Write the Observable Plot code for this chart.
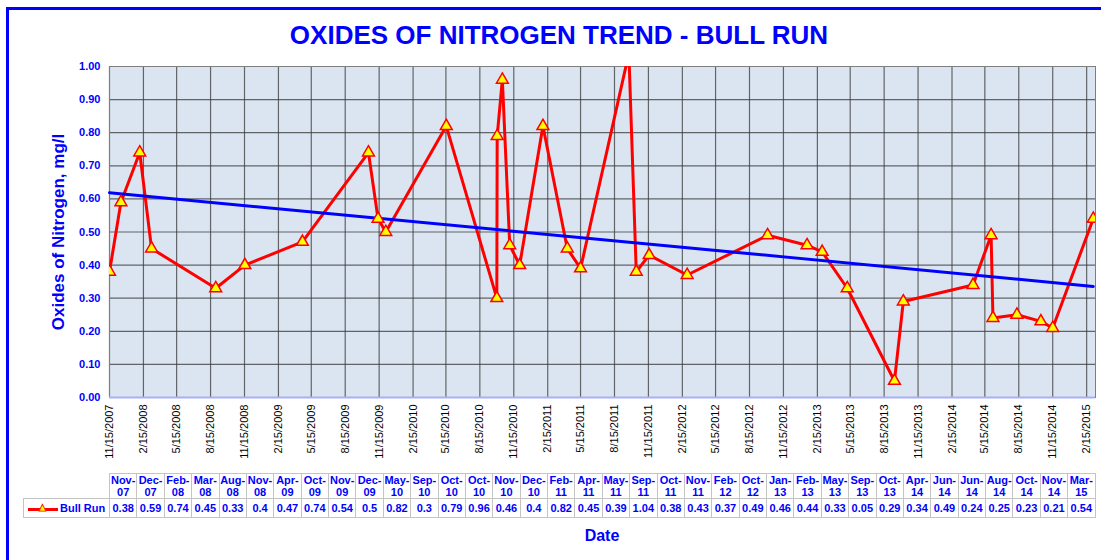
<!DOCTYPE html>
<html>
<head>
<meta charset="utf-8">
<script src="https://cdn.jsdelivr.net/npm/d3@7"></script>
<script src="https://cdn.jsdelivr.net/npm/@observablehq/plot@0.6"></script>
<style>
  html, body { margin: 0; padding: 0; background: #fff; }
  #wrap { position: relative; width: 1101px; height: 560px; overflow: hidden; background: #fff; font-family: 'Liberation Sans', Arial, sans-serif; }
  #border { position: absolute; left: 6px; top: 7px; width: 1200px; height: 700px; border-left: 3px solid #0000ff; border-top: 3px solid #0000ff; }
  #title { position: absolute; left: 0; top: 22px; width: 1118px; text-align: center; font: bold 26px/26px 'Liberation Sans', Arial, sans-serif; color: #0000ff; }
  #chart { position: absolute; left: 0; top: 0; }
  #tbl { position: absolute; left: 23px; top: 473px; }
  #tbl table { border-collapse: collapse; table-layout: fixed; width: 1072px; font: bold 11px 'Liberation Sans', Arial, sans-serif; color: #0000ff; }
  #tbl td { border: 1px solid #c4c4c4; padding: 0; text-align: center; vertical-align: middle; white-space: nowrap; overflow: hidden; }
  #tbl tr.head td { height: 23px; line-height: 12px; }
  #tbl tr.vals td { height: 18px; }
  #tbl td.blank { border: none; }
  #tbl td.legend { text-align: left; padding-left: 4px; }
  .sym { display: inline-block; position: relative; width: 30px; height: 10px; vertical-align: middle; margin-right: 2px; }
  .sym .bar { position: absolute; left: 0; top: 4px; width: 30px; height: 3px; background: #ff0000; }
  .sym .tri { position: absolute; left: 11px; top: -2px; font: 9px 'DejaVu Sans', sans-serif; color: #ffff00; -webkit-text-stroke: 0.8px #ff0000; }
  #date { position: absolute; left: 109px; width: 986px; top: 527px; text-align: center; font: bold 16px 'Liberation Sans', Arial, sans-serif; color: #0000ff; }
</style>
</head>
<body>
<div id="wrap">
  <div id="border"></div>
  <div id="title">OXIDES OF NITROGEN TREND - BULL RUN</div>
  <div id="chart"></div>
  <div id="tbl"></div>
  <div id="date">Date</div>
</div>
<script>
// ---- data ----
const sampleDates = ["2007-11-15","2007-12-16","2008-02-05","2008-03-08","2008-08-29","2008-11-16","2009-04-21","2009-10-17","2009-11-12","2009-12-03","2010-05-16","2010-09-30","2010-10-01","2010-10-15","2010-11-04","2010-12-01","2011-02-02","2011-04-09","2011-05-15","2011-09-23","2011-10-13","2011-11-17","2012-02-28","2012-10-03","2013-01-18","2013-02-28","2013-05-07","2013-09-12","2013-10-06","2014-04-13","2014-06-01","2014-06-06","2014-08-10","2014-10-14","2014-11-15","2015-03-05"];
const bullRun = [0.38,0.59,0.74,0.45,0.33,0.4,0.47,0.74,0.54,0.5,0.82,0.3,0.79,0.96,0.46,0.4,0.82,0.45,0.39,1.04,0.38,0.43,0.37,0.49,0.46,0.44,0.33,0.05,0.29,0.34,0.49,0.24,0.25,0.23,0.21,0.54];
const tableLabels = ["Nov-07","Dec-07","Feb-08","Mar-08","Aug-08","Nov-08","Apr-09","Oct-09","Nov-09","Dec-09","May-10","Sep-10","Oct-10","Oct-10","Nov-10","Dec-10","Feb-11","Apr-11","May-11","Sep-11","Oct-11","Nov-11","Feb-12","Oct-12","Jan-13","Feb-13","May-13","Sep-13","Oct-13","Apr-14","Jun-14","Jun-14","Aug-14","Oct-14","Nov-14","Mar-15"];
const xTickLabels = ["11/15/2007","2/15/2008","5/15/2008","8/15/2008","11/15/2008","2/15/2009","5/15/2009","8/15/2009","11/15/2009","2/15/2010","5/15/2010","8/15/2010","11/15/2010","2/15/2011","5/15/2011","8/15/2011","11/15/2011","2/15/2012","5/15/2012","8/15/2012","11/15/2012","2/15/2013","5/15/2013","8/15/2013","11/15/2013","2/15/2014","5/15/2014","8/15/2014","11/15/2014","2/15/2015"];
const yTicks = [0,0.1,0.2,0.3,0.4,0.5,0.6,0.7,0.8,0.9,1.0];
const xDomain = ["2007-11-15","2015-03-11"];
const seriesName = "Bull Run";
const yLabel = "Oxides of Nitrogen, mg/l";

const parse = d3.utcParse("%Y-%m-%d");
const data = sampleDates.map((d, i) => ({date: parse(d), value: bullRun[i]}));
const tickDates = xTickLabels.map(d3.utcParse("%m/%d/%Y"));

const chart = Plot.plot({
  width: 1101, height: 470,
  marginLeft: 109, marginRight: 6, marginTop: 66, marginBottom: 73,
  style: {fontFamily: "'Liberation Sans', Arial, sans-serif", fontSize: "11px", background: "transparent", overflow: "visible"},
  x: {type: "utc", domain: xDomain.map(parse)},
  y: {domain: [0, 1]},
  marks: [
    Plot.frame({fill: "#dbe5f1", stroke: null}),
    Plot.gridX(tickDates, {stroke: "#3a3a3a", strokeOpacity: 0.75, strokeWidth: 1.2}),
    Plot.gridY(yTicks, {stroke: "#3a3a3a", strokeOpacity: 0.75, strokeWidth: 1.2}),
    Plot.frame({stroke: "#7f7f7f"}),
    Plot.ruleY([0], {stroke: "#a9b0f5", strokeWidth: 2}),
    Plot.axisY(yTicks, {tickSize: 0, tickPadding: 9, tickFormat: d3.format(".2f"), fill: "#0000ff", fontWeight: "bold", fontSize: 11, label: null}),
    Plot.axisX(tickDates, {tickSize: 0, tickPadding: 7, tickRotate: -90, tickFormat: d3.utcFormat("%-m/%-d/%Y"), fill: "#000", fontSize: 11, label: null}),
    Plot.text([yLabel], {text: d => d, frameAnchor: "left", textAnchor: "middle", lineAnchor: "middle", dx: -51, rotate: -90, fill: "#0000ff", fontWeight: "bold", fontSize: 17}),
    Plot.line(data, {x: "date", y: "value", stroke: "#ff0000", strokeWidth: 3, clip: true}),
    Plot.linearRegressionY(data, {x: "date", y: "value", stroke: "#0000ff", strokeWidth: 3, ci: 0}),
    Plot.dot(data, {x: "date", y: "value", symbol: "triangle", r: 4.4, fill: "#ffff00", stroke: "#ff0000", strokeWidth: 1.5, clip: true})
  ]
});
document.getElementById("chart").appendChild(chart);

// ---- data table ----
const colW = 986 / tableLabels.length;
let html = '<table><colgroup><col style="width:86px">' + tableLabels.map(() => `<col style="width:${colW}px">`).join("") + '</colgroup>';
html += '<tr class="head"><td class="blank"></td>' + tableLabels.map(l => { const [m, y] = l.split("-"); return `<td>${m}-<br>${y}</td>`; }).join("") + '</tr>';
html += '<tr class="vals"><td class="legend"><span class="sym"><span class="bar"></span><span class="tri">▲</span></span>' + seriesName + '</td>' + bullRun.map(v => `<td>${v}</td>`).join("") + '</tr></table>';
document.getElementById("tbl").innerHTML = html;
</script>
</body>
</html>
